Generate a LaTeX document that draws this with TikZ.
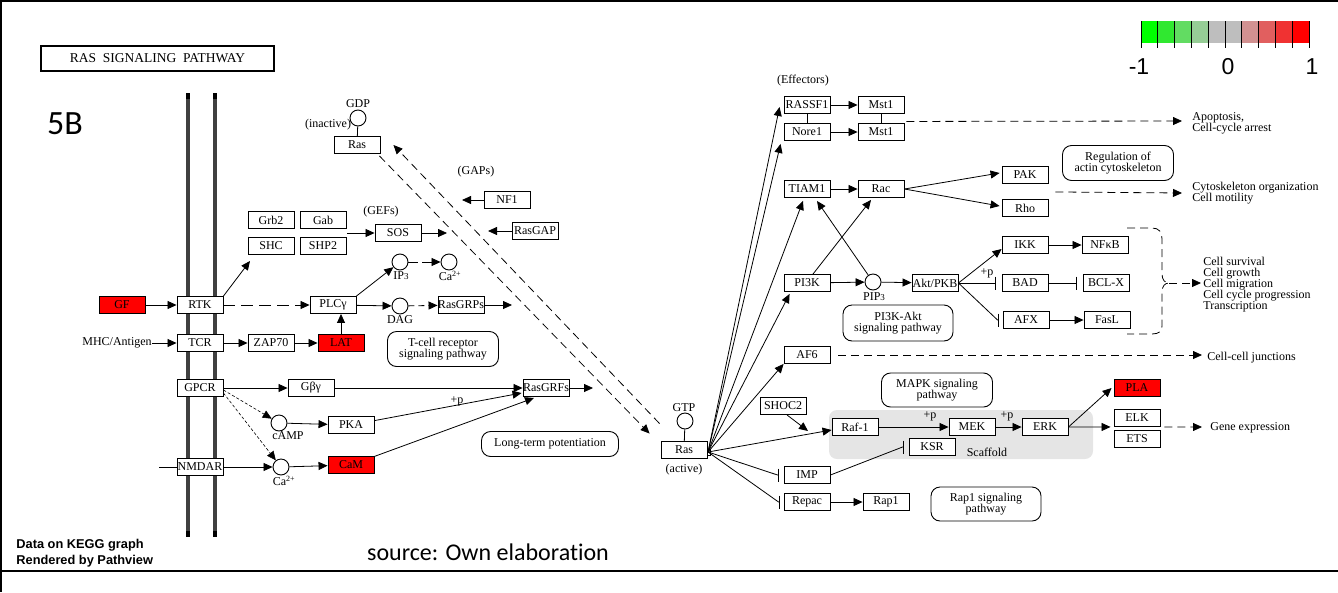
\documentclass[tikz,border=0pt]{standalone}
\usepackage{fontspec}
\setmainfont{Liberation Serif}
\newfontfamily\lsans{Liberation Sans}
\newfontfamily\calfont[Ligatures=NoCommon]{Carlito}
\usetikzlibrary{arrows.meta,calc}
\definecolor{kred}{RGB}{255,0,0}
\definecolor{lg1}{RGB}{0,255,0}
\definecolor{lg2}{RGB}{48,232,48}
\definecolor{lg3}{RGB}{98,220,98}
\definecolor{lg4}{RGB}{150,205,150}
\definecolor{lg5}{RGB}{190,190,190}
\definecolor{lg6}{RGB}{190,190,190}
\definecolor{lg7}{RGB}{210,145,145}
\definecolor{lg8}{RGB}{225,95,95}
\definecolor{lg9}{RGB}{240,50,50}
\definecolor{lg10}{RGB}{255,0,0}
\begin{document}
\begin{tikzpicture}[x=1pt,y=-1pt,line width=0.8pt,
  gbox/.style={draw, line width=0.9pt, fill=white, minimum width=46pt, minimum height=17pt, inner sep=0pt, font=\fontsize{12}{12}\selectfont},
  redbox/.style={gbox, fill=kred},
  cpd/.style={circle, draw, line width=0.9pt, fill=white, minimum size=16pt, inner sep=0pt},
  lbl/.style={inner sep=0pt, font=\fontsize{12}{11}\selectfont},
  pwbox/.style={draw, line width=0.9pt, rounded corners=9pt, inner sep=0pt, align=center, font=\fontsize{12}{11}\selectfont},
  arr/.style={-{Triangle[length=9pt,width=8pt]}},
  inh/.style={-{Bar[width=13pt,line width=1pt]}},
  dsh/.style={dash pattern=on 8pt off 5pt},
  fdsh/.style={dash pattern=on 3pt off 2pt},
  memb/.style={line width=4pt, draw=black!75},
]
\useasboundingbox (0,0) rectangle (1338,592);
% frame
\draw[line width=1.5pt] (0,0.75) -- (1338,0.75);
\draw[line width=1.5pt] (0.75,0) -- (0.75,592);
\draw[line width=1.2pt] (0,571) -- (1338,571);

% title and tag
\node[draw, line width=2pt, minimum width=233pt, minimum height=25pt, inner sep=0pt, font=\fontsize{13.5}{13.5}\selectfont] (title) at (157.5,58.5) {RAS\ \ SIGNALING\ \ PATHWAY};
\node[inner sep=0pt, font=\calfont\fontsize{34}{34}\selectfont] (tag) at (65,124) {5B};

% legend
\foreach \i in {1,...,10} {
  \fill[lg\i] ({1141+16.8*(\i-1)},21) rectangle ({1141+16.8*\i},43);
}
\foreach \i in {0,...,10} {
  \draw[line width=0.8pt] ({1141+16.8*\i},21) -- ({1141+16.8*\i},48);
}
\node[inner sep=0pt, font=\lsans\fontsize{23}{23}\selectfont] (lm) at (1139,67) {-1};
\node[inner sep=0pt, font=\lsans\fontsize{23}{23}\selectfont] (l0) at (1228,67) {0};
\node[inner sep=0pt, font=\lsans\fontsize{23}{23}\selectfont] (lp) at (1312,67) {1};

% footer texts
\node[inner sep=0pt, anchor=west, align=left, font=\lsans\bfseries\fontsize{12.8}{16}\selectfont] (credit) at (16,553) {Data on KEGG graph\\Rendered by Pathview};
\node[inner sep=0pt, font=\calfont\fontsize{24}{24}\selectfont] (source) at (488,552) {source: Own elaboration};

% membrane
\draw[memb] (188,93) -- (188,537);
\draw[memb] (215,93) -- (215,537);
\foreach \xx in {188,215} {
  \draw[line width=4pt] (\xx,93) -- (\xx,99);
  \draw[line width=4pt] (\xx,531) -- (\xx,537);
}

% scaffold
\fill[gray!20, rounded corners=8pt] (829,410) rectangle (1093,459);

% pathway boxes
\node[pwbox, minimum width=111pt, minimum height=35pt] (tcrpw) at (443,349) {T-cell receptor\\signaling pathway};
\node[pwbox, minimum width=137pt, minimum height=25pt] (ltp) at (550,444) {Long-term potentiation};
\node[pwbox, minimum width=110pt, minimum height=36pt] (pi3kpw) at (898,323) {PI3K-Akt\\signaling pathway};
\node[pwbox, minimum width=111pt, minimum height=34pt] (mapkpw) at (937,390) {MAPK signaling\\pathway};
\node[pwbox, minimum width=110pt, minimum height=34pt] (rap1pw) at (986,504) {Rap1 signaling\\pathway};
\node[pwbox, minimum width=111pt, minimum height=35pt] (actinpw) at (1118,163) {Regulation of\\actin cytoskeleton};

% left genes
\node[redbox] (GF) at (122,305) {GF};
\node[gbox] (RTK) at (200,305) {RTK};
\node[gbox] (TCR) at (200,343) {TCR};
\node[gbox] (GPCR) at (200,388) {GPCR};
\node[gbox] (NMDAR) at (200,467) {NMDAR};
\node[gbox] (ZAP70) at (271,343) {ZAP70};
\node[redbox] (LAT) at (341,343) {LAT};
\node[gbox] (PLC) at (333,305) {PLCγ};
\node[gbox] (Grb2) at (271,220) {Grb2};
\node[gbox] (Gab) at (323,220) {Gab};
\node[gbox] (SHC) at (271,246) {SHC};
\node[gbox] (SHP2) at (323,246) {SHP2};
\node[gbox] (SOS) at (398,233) {SOS};
\node[gbox] (RasGRP) at (461,305) {RasGRPs};
\node[gbox] (Gbg) at (311,388) {Gβγ};
\node[gbox] (PKA) at (351,425) {PKA};
\node[redbox] (CaM) at (351,465) {CaM};
\node[gbox] (RasGRF) at (546,388) {RasGRFs};
\node[gbox] (RasI) at (357,145) {Ras};
\node[gbox] (NF1) at (507,200) {NF1};
\node[gbox] (RasGAP) at (535,231) {RasGAP};
\node[gbox] (RasA) at (684,450) {Ras};

% compounds
\node[cpd] (IP3) at (400,262) {};
\node[cpd] (Ca1) at (449,262) {};
\node[cpd] (DAG) at (400,306) {};
\node[cpd] (cAMP) at (279,423) {};
\node[cpd] (Ca2) at (281,467) {};
\node[cpd] (GDP) at (358,118) {};
\node[cpd] (GTP) at (685,421) {};
\node[cpd] (PIP3) at (873,282) {};

% labels
\node[lbl] (mhc) at (117,343) {MHC/Antigen};
\node[lbl] (lIP3) at (401,276) {IP{\fontsize{9}{9}\selectfont 3}};
\node[lbl] (lCa1) at (450,276) {Ca\textsuperscript{2+}};
\node[lbl] (lDAG) at (400,320) {DAG};
\node[lbl] (lcAMP) at (288,436) {cAMP};
\node[lbl] (lCa2) at (284,481) {Ca\textsuperscript{2+}};
\node[lbl] (lGDP) at (358,104) {GDP};
\node[lbl] (linact) at (328,125) {(inactive)};
\node[lbl] (lGAPs) at (476,172) {(GAPs)};
\node[lbl] (lGEFs) at (381,212) {(GEFs)};
\node[lbl] (lGTP) at (684,408) {GTP};
\node[lbl] (lact) at (684,470) {(active)};
\node[lbl] (lEff) at (803,81) {(Effectors)};
\node[lbl] (lPIP3) at (874,297) {PIP{\fontsize{9}{9}\selectfont 3}};
\node[lbl] (pPKA) at (457,401) {+p};
\node[lbl] (pAkt) at (987,273) {+p};
\node[lbl] (pRaf) at (930,416) {+p};
\node[lbl] (pMEK) at (1007,416) {+p};
\node[lbl] (lscaf) at (987,452) {Scaffold};
\node[lbl, anchor=west, align=left] (apop) at (1192,123) {Apoptosis,\\Cell-cycle arrest};
\node[lbl, anchor=west, align=left] (cyto) at (1192,193) {Cytoskeleton organization\\Cell motility};
\node[lbl, anchor=west, align=left] (surv) at (1203,285) {Cell survival\\Cell growth\\Cell migration\\Cell cycle progression\\Transcription};
\node[lbl, anchor=west] (ccj) at (1207,358) {Cell-cell junctions};
\node[lbl, anchor=west] (gene) at (1210,428) {Gene expression};

% right genes
\node[gbox] (RASSF1) at (807,105) {RASSF1};
\node[gbox] (Nore1) at (807,132) {Nore1};
\node[gbox] (Mst1a) at (881,105) {Mst1};
\node[gbox] (Mst1b) at (881,132) {Mst1};
\node[gbox] (TIAM1) at (807,189) {TIAM1};
\node[gbox] (Rac) at (881,189) {Rac};
\node[gbox] (PAK) at (1025,175) {PAK};
\node[gbox] (Rho) at (1025,208) {Rho};
\node[gbox] (PI3K) at (807,283) {PI3K};
\node[gbox] (Akt) at (935,283) {Akt/PKB};
\node[gbox] (IKK) at (1025,245) {IKK};
\node[gbox] (NFkB) at (1105,245) {NFκB};
\node[gbox] (BAD) at (1025,283) {BAD};
\node[gbox] (BCLX) at (1106,283) {BCL-X};
\node[gbox] (AFX) at (1026,320) {AFX};
\node[gbox] (FasL) at (1107,320) {FasL};
\node[gbox] (AF6) at (807,355) {AF6};
\node[gbox] (SHOC2) at (783,406) {SHOC2};
\node[gbox] (Raf) at (855,427) {Raf-1};
\node[gbox] (MEK) at (972,427) {MEK};
\node[gbox] (ERK) at (1045,427) {ERK};
\node[gbox] (KSR) at (932,447) {KSR};
\node[gbox] (IMP) at (807,475) {IMP};
\node[gbox] (Repac) at (807,502) {Repac};
\node[gbox] (Rap1) at (886,502) {Rap1};
\node[redbox] (PLA) at (1137,388) {PLA};
\node[gbox] (ELK) at (1137,418) {ELK};
\node[gbox] (ETS) at (1137,439) {ETS};

% free ends
\coordinate (adapt) at (250,261);
\coordinate (adaptR) at (347,233);
\coordinate (sosE) at (447,233);
\coordinate (grpE) at (512,305);
\coordinate (grfE) at (593,388);
\coordinate (nmdaW) at (159,467);
\coordinate (nf1W) at (462,200);
\coordinate (gapW) at (488,231);
\coordinate (hub) at (708,452);
\coordinate (shocT) at (808,431);
\coordinate (brace) at (1169,283);

% left edges
\draw[arr] (GF) -- (RTK);
\draw[arr] (mhc) -- (TCR);
\draw[arr] (TCR) -- (ZAP70);
\draw[arr] (ZAP70) -- (LAT);
\draw[arr] (LAT.north) -- (LAT.north |- PLC.south);
\draw[arr,dash pattern=on 12pt off 6pt] (RTK) -- (PLC);
\draw[arr] (RTK.north east) -- (adapt);
\draw[arr] (adaptR) -- (SOS);
\draw[arr] (SOS) -- (sosE);
\draw[arr] (PLC.north east) -- (IP3);
\draw[arr,dash pattern=on 10pt off 4pt] (IP3) -- (Ca1);
\draw[arr] (PLC) -- (DAG);
\draw[arr,dash pattern=on 6pt off 4pt] (DAG) -- (RasGRP);
\draw[arr] (RasGRP) -- (grpE);
\draw[arr] (GPCR) -- (Gbg);
\draw[arr] (Gbg) -- (RasGRF);
\draw[arr,fdsh,line width=0.6pt] ([yshift=-2pt]GPCR.east) -- (cAMP);
\draw[arr,fdsh,line width=0.6pt] ([yshift=-5pt]GPCR.east) -- (Ca2);
\draw[arr] (cAMP) -- (PKA);
\draw[arr] (PKA) -- ([xshift=-1pt,yshift=-5pt]RasGRF.west);
\draw[arr] (CaM) -- ([xshift=-12pt,yshift=-1pt]RasGRF.south);
\draw[arr] (RasGRF) -- (grfE);
\draw (nmdaW) -- (NMDAR);
\draw[arr] (NMDAR) -- (Ca2);
\draw[arr] (Ca2) -- (CaM);
\draw[arr] (NF1) -- (nf1W);
\draw[arr] (RasGAP) -- (gapW);
\draw (GDP) -- (RasI);
\draw (GTP) -- (RasA);
\draw[arr,dsh] ([xshift=-1pt,yshift=-2pt]RasI.south east) -- ([xshift=-11pt,yshift=7.5pt]RasA.north west);
\draw[arr,dsh] ([xshift=-1pt,yshift=17.5pt]RasA.north west) -- ([xshift=13pt]RasI.east);

% hub edges
\draw[fill=white, line width=0.7pt] (707,449) rectangle (710,455);
\draw[arr] (hub) -- ([xshift=-4pt,yshift=-2pt]RASSF1.west);
\draw[arr] (hub) -- ([xshift=-3pt,yshift=-3pt]Nore1.south west);
\draw[arr] (hub) -- ([xshift=-4pt,yshift=-3pt]TIAM1.south);
\draw[arr] (hub) -- ([xshift=6pt,yshift=-2pt]PI3K.south west);
\draw[arr] (hub) -- (AF6.south west);
\draw[arr] (hub) -- ([yshift=-3pt]Raf.west);
\draw[inh] (hub) -- ([xshift=-6pt]IMP.west) -- ([xshift=-5pt]IMP.west);
\draw[inh] (hub) -- ([xshift=-5pt]Repac.west) -- ([xshift=-4pt]Repac.west);

% right edges
\draw[arr] (RASSF1) -- (Mst1a);
\draw[arr] (Nore1) -- (Mst1b);
\draw (RASSF1) -- (Nore1);
\draw (Mst1a) -- (Mst1b);
\draw[arr,dsh] ($(Mst1a.south east)+(2,7.5)$) -- ([xshift=-10pt,yshift=2pt]apop.west);
\draw[arr] (TIAM1) -- (Rac);
\draw[arr] (Rac.east) -- ([xshift=-2pt,yshift=2pt]PAK.west);
\draw[arr] (Rac.east) -- ([xshift=-2pt,yshift=2pt]Rho.west);
\draw[arr,dsh] ($(PAK.south east)+(7,8)$) -- ([xshift=-10pt]cyto.west);
\draw[arr] (PI3K) -- (PIP3);
\draw[arr] (PIP3) -- (Akt);
\draw[arr] ([xshift=6pt]PI3K.north) -- ([xshift=-10pt,yshift=-2pt]Rac.south);
\draw[arr] (PIP3) -- ([xshift=10pt,yshift=-3pt]TIAM1.south);
\draw[arr] (Akt.east) -- ([yshift=-4pt]IKK.west);
\draw[inh] (Akt.east) -- ([xshift=-6pt]BAD.west);
\draw[inh] (Akt.east) -- ([xshift=-5pt]AFX.west) -- ([xshift=-4pt]AFX.west);
\draw[arr] (IKK) -- (NFkB);
\draw[inh] (BAD) -- ([xshift=-6pt]BCLX.west);
\draw[arr] (AFX) -- (FasL);
\draw[dsh] (1127,228) -- (1152,228) .. controls (1159,228) and (1162,232) .. (1162,239) -- (1162,274) .. controls (1162,280) and (1165,283) .. (brace) .. controls (1165,283) and (1162,286) .. (1162,292) -- (1162,326) .. controls (1162,331) and (1159,334) .. (1152,334) -- (1127,334);
\draw[arr,dsh] (brace) -- ([xshift=-2pt,yshift=2pt]surv.west);
\draw[arr,dsh] ([xshift=8pt]AF6.east) -- ([xshift=-5pt,yshift=3pt]ccj.west);
\draw[arr] ([xshift=4pt]SHOC2.south) -- (shocT);
\draw[arr] (Raf) -- (MEK);
\draw[arr] (MEK) -- (ERK);
\draw[arr] (ERK.east) -- ([xshift=-2pt]PLA.west);
\draw[arr] (ERK.east) -- ([xshift=-3pt]ELK.south west);
\draw[arr,dsh] ([xshift=4pt]ELK.south east) -- ([xshift=-8pt,yshift=1pt]gene.west);
\draw[inh] (IMP.east) -- ([xshift=-6pt]KSR.west) -- ([xshift=-5pt]KSR.west);
\draw[arr] (Repac) -- (Rap1);
\end{tikzpicture}
\end{document}
